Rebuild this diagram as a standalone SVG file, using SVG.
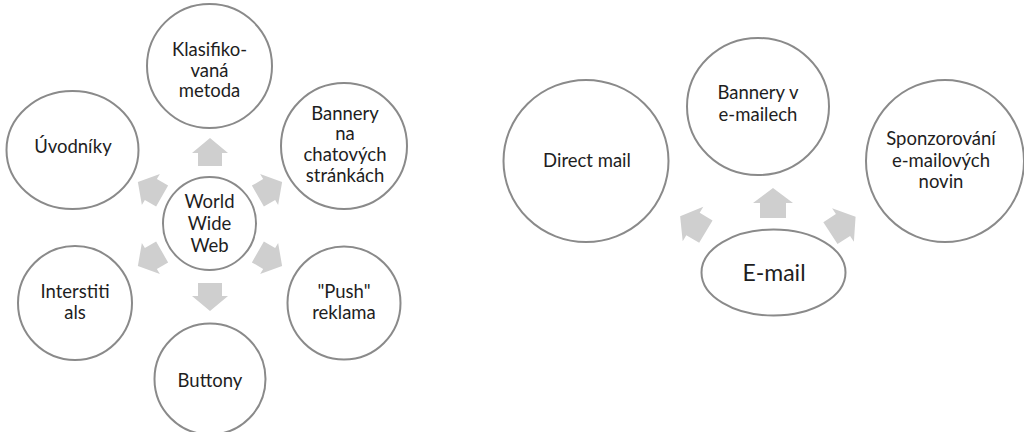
<svg xmlns="http://www.w3.org/2000/svg" width="1024" height="432" viewBox="0 0 1024 432">
  <style>
    .node { fill: #ffffff; stroke: #8a8a8a; stroke-width: 2; }
    .lbl { font-family: "Lato", "Liberation Sans", sans-serif; font-size: 18.5px; fill: #1e1e1e; text-anchor: middle; }
    .big { font-size: 23px; }
    .arr { fill: #cfcfcf; }
  </style>
  <defs>
    <polygon id="arrS" points="0,-14 18,1 12,1 12,14 -12,14 -12,1 -18,1"/>
    <polygon id="arrL" points="0,-15 20,0 13,0 13,15 -13,15 -13,0 -20,0"/>
  </defs>
  <rect width="1024" height="432" fill="#ffffff"/>

  <g id="connectors">
    <use href="#arrS" class="arr" transform="translate(210,152)"/>
    <use href="#arrS" class="arr" transform="translate(270,189) rotate(60)"/>
    <use href="#arrS" class="arr" transform="translate(270,259) rotate(120)"/>
    <use href="#arrS" class="arr" transform="translate(210,297) rotate(180)"/>
    <use href="#arrS" class="arr" transform="translate(150,259) rotate(240)"/>
    <use href="#arrS" class="arr" transform="translate(150,189) rotate(300)"/>
    <use href="#arrL" class="arr" transform="translate(773,203)"/>
    <use href="#arrL" class="arr" transform="translate(693,224) rotate(-59)"/>
    <use href="#arrL" class="arr" transform="translate(843,225) rotate(57)"/>
  </g>

  <g id="www">
    <circle class="node" cx="209.5" cy="223.5" r="46.5"/>
    <text class="lbl" x="209.5" y="208">World</text>
    <text class="lbl" x="209.5" y="230">Wide</text>
    <text class="lbl" x="209.5" y="252">Web</text>
  </g>
  <g id="klasifikovana">
    <ellipse class="node" cx="209.5" cy="66" rx="62.5" ry="62"/>
    <text class="lbl" x="209.5" y="56">Klasifiko-</text>
    <text class="lbl" x="209.5" y="77">vaná</text>
    <text class="lbl" x="209.5" y="97">metoda</text>
  </g>
  <g id="uvodniky">
    <ellipse class="node" cx="72.5" cy="150" rx="66" ry="59"/>
    <text class="lbl" x="73" y="153">Úvodníky</text>
  </g>
  <g id="bannery-chat">
    <circle class="node" cx="344" cy="146" r="63"/>
    <text class="lbl" x="345" y="120">Bannery</text>
    <text class="lbl" x="345" y="140">na</text>
    <text class="lbl" x="345" y="161">chatových</text>
    <text class="lbl" x="345" y="182">stránkách</text>
  </g>
  <g id="push">
    <circle class="node" cx="344" cy="303" r="56.5"/>
    <text class="lbl" x="344" y="298">"Push"</text>
    <text class="lbl" x="344" y="319">reklama</text>
  </g>
  <g id="interstitials">
    <circle class="node" cx="75" cy="303" r="57"/>
    <text class="lbl" x="75" y="298">Interstiti</text>
    <text class="lbl" x="75" y="319">als</text>
  </g>
  <g id="buttony">
    <circle class="node" cx="210" cy="379" r="55.5"/>
    <text class="lbl" x="210" y="387">Buttony</text>
  </g>

  <g id="email">
    <ellipse class="node" cx="773.5" cy="272.5" rx="72" ry="43"/>
    <text class="lbl big" x="774" y="281">E-mail</text>
  </g>
  <g id="direct-mail">
    <ellipse class="node" cx="586" cy="161" rx="82.5" ry="81"/>
    <text class="lbl" x="587" y="167">Direct mail</text>
  </g>
  <g id="bannery-email">
    <ellipse class="node" cx="758" cy="106.5" rx="71" ry="68.5"/>
    <text class="lbl" x="758" y="99">Bannery v</text>
    <text class="lbl" x="758" y="121">e-mailech</text>
  </g>
  <g id="sponzorovani">
    <ellipse class="node" cx="945" cy="161" rx="79" ry="81"/>
    <text class="lbl" x="941" y="145">Sponzorování</text>
    <text class="lbl" x="941" y="167">e-mailových</text>
    <text class="lbl" x="941" y="188">novin</text>
  </g>
</svg>
